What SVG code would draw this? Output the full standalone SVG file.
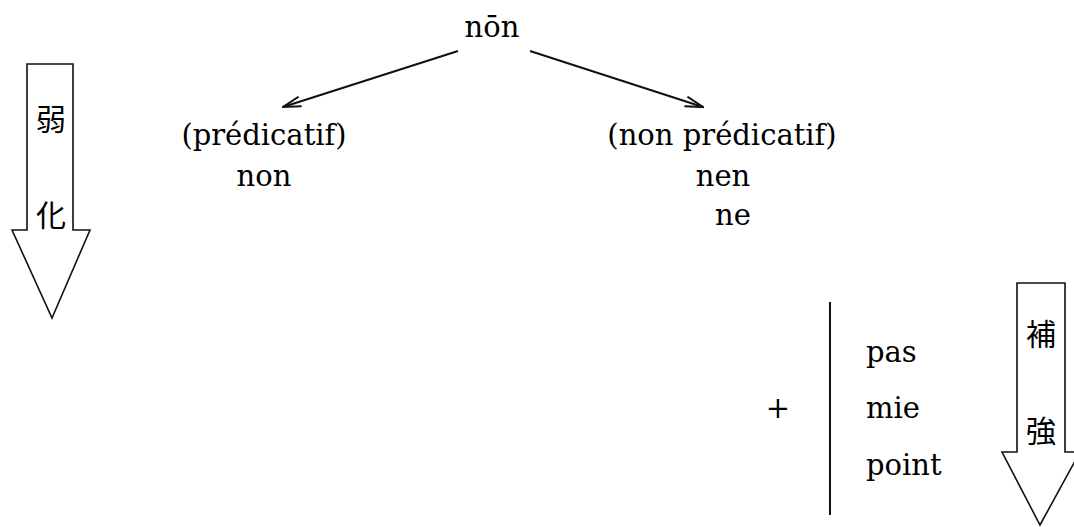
<svg xmlns="http://www.w3.org/2000/svg" width="1074" height="527" viewBox="0 0 1074 527">
<style>
.t{font-family:"DejaVu Serif","Liberation Serif",serif;font-size:29px;fill:#000}
.j{font-family:"Noto Sans CJK JP","Noto Sans CJK SC",sans-serif;font-size:30px;fill:#000}
.blk{fill:#fff;stroke:#111;stroke-width:1.6;stroke-linejoin:miter}
.ln{stroke:#111;stroke-width:2;fill:none}
</style>
<defs>
<marker id="ah" viewBox="0 0 20 12" refX="19" refY="6" markerWidth="20" markerHeight="12" markerUnits="userSpaceOnUse" orient="auto">
<path d="M1,1 L19,6 L1,11" fill="none" stroke="#111" stroke-width="2"/>
</marker>
</defs>
<rect width="1074" height="527" fill="#fff"/>
<g id="weaken-arrow">
<polygon class="blk" points="27,64 73,64 73,230 90,230 52,318 12,230 27,230"/>
<text class="j" x="51" y="117" text-anchor="middle" dominant-baseline="central">弱</text>
<text class="j" x="51" y="213" text-anchor="middle" dominant-baseline="central">化</text>
</g>
<g id="reinforce-arrow">
<polygon class="blk" points="1017,283 1065,283 1065,452 1080,452 1040,525 1002,452 1017,452"/>
<text class="j" x="1041" y="332" text-anchor="middle" dominant-baseline="central">補</text>
<text class="j" x="1041" y="429" text-anchor="middle" dominant-baseline="central">強</text>
</g>
<g id="root"><text class="t" x="492" y="37" text-anchor="middle">nōn</text></g>
<g id="predicatif">
<text class="t" x="264" y="145" text-anchor="middle">(prédicatif)</text>
<text class="t" x="264" y="186" text-anchor="middle">non</text>
</g>
<g id="non-predicatif">
<text class="t" x="722" y="145" text-anchor="middle">(non prédicatif)</text>
<text class="t" x="723" y="186" text-anchor="middle">nen</text>
<text class="t" x="715" y="225">ne</text>
</g>
<g id="complements">
<text class="t" x="778" y="418" text-anchor="middle">+</text>
<line class="ln" x1="830" y1="302" x2="830" y2="515" stroke-width="1.6"/>
<text class="t" x="866" y="362">pas</text>
<text class="t" x="866" y="418">mie</text>
<text class="t" x="866" y="475">point</text>
</g>
<g id="connectors">
<line class="ln" x1="458" y1="51" x2="283" y2="107" marker-end="url(#ah)"/>
<line class="ln" x1="530" y1="51" x2="703" y2="107" marker-end="url(#ah)"/>
</g>
</svg>
